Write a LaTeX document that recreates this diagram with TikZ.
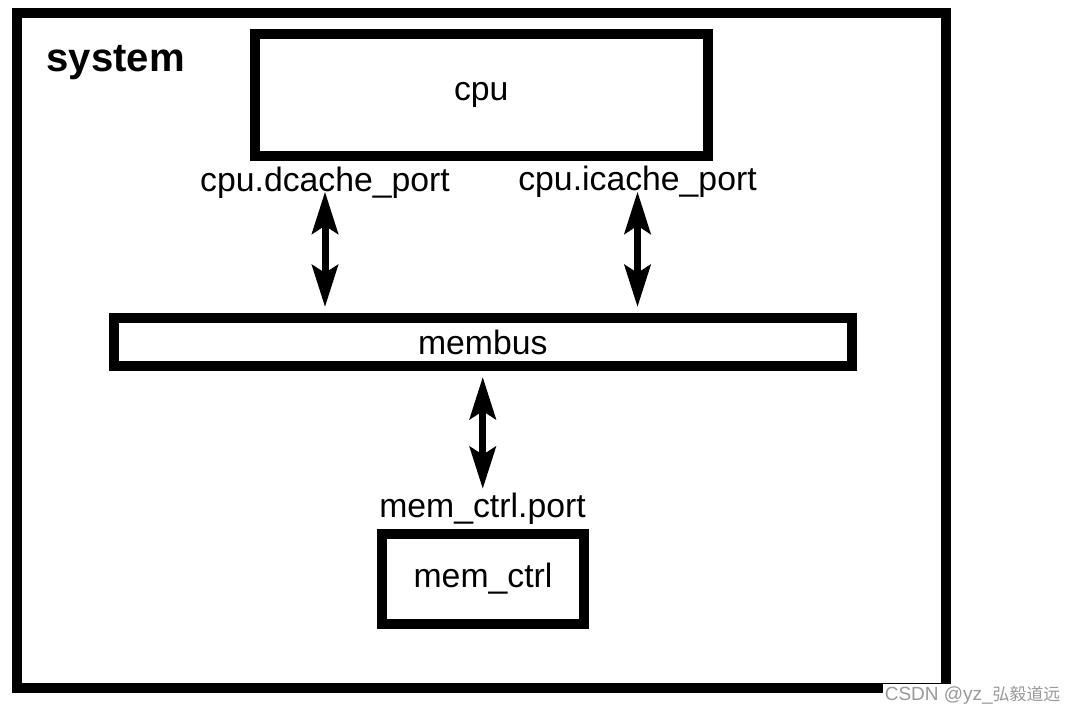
\documentclass[tikz,border=0pt]{standalone}
\usepackage{fontspec}
\setmainfont{Liberation Sans}
\newfontfamily\cjk{Noto Sans CJK SC}
\usetikzlibrary{arrows.meta}
\tikzstyle{box}=[draw,line width=0.1cm,inner sep=0pt,font=\fontsize{9.6}{11}\selectfont]
\tikzstyle{port}=[inner sep=0pt,anchor=base,font=\fontsize{9.6}{11}\selectfont]
\tikzstyle{link}=[{Stealth[length=0.42cm,width=0.26cm,inset=0.08cm]}-{Stealth[length=0.42cm,width=0.26cm,inset=0.08cm]},line width=0.07cm]

\begin{document}
\begin{tikzpicture}[x=0.01cm,y=-0.01cm]
\useasboundingbox[fill=white] (0,0) rectangle (1077,712);
% boxes
\node[box,minimum width=9.29cm,minimum height=6.75cm] at (481.5, 350.5) (sys) {};
\node[inner sep=0pt,anchor=base west,font=\fontsize{11.4}{13}\selectfont\bfseries] at (46, 71) (name) {system};
\node[box,minimum width=4.525cm,minimum height=1.21cm] at (481.25, 95) (cpu) {cpu};
\node[box,minimum width=7.375cm,minimum height=0.48cm] at (482.75, 342) (bus) {membus};
\node[box,minimum width=2.02cm,minimum height=0.9cm] at (483, 579) (mc) {mem\_ctrl};
% ports
\node[port] at (325, 191) (dp) {cpu.dcache\_port};
\node[port] at (637.5, 190) (ip) {cpu.icache\_port};
\node[port] at (482.5, 517) (mp) {mem\_ctrl.port};
% links
\draw[link,shorten <=-0.07cm,shorten >=0.06cm] (dp.south) -- (dp.south |- bus.north);
\draw[link,shorten <=-0.06cm,shorten >=0.06cm] (ip.south) -- (ip.south |- bus.north);
\draw[link,shorten <=0.06cm,shorten >=0.03cm] (bus.south) -- (bus.south |- mp.north);
% watermark
\node[fill=white,inner sep=0.6pt,anchor=north west,text=black!40,font=\fontsize{5.4}{6}\selectfont] at (882, 683) (wm) {CSDN @yz\_{\cjk\fontsize{4.8}{6}\selectfont 弘毅道远}};
\end{tikzpicture}
\end{document}
